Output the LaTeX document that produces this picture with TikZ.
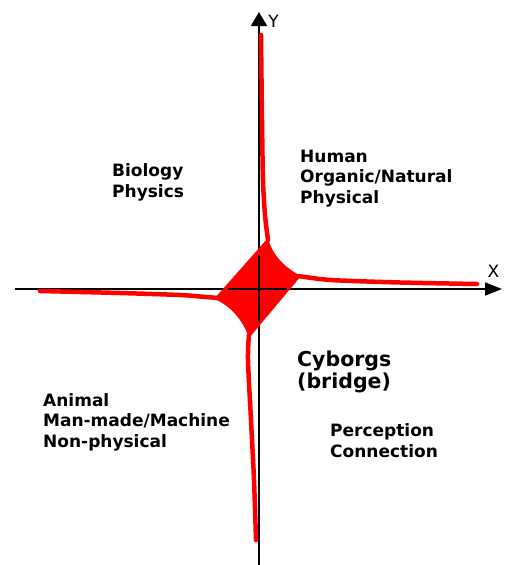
\documentclass[tikz,border=0pt]{standalone}
\usepackage{fontspec}
\setmainfont{DejaVu Sans}
\usetikzlibrary{arrows.meta}
\definecolor{cred}{RGB}{255,0,0}
\tikzset{
  axisline/.style={line width=1.8pt, black},
  tail/.style={line width=4.5pt, cred, line cap=round},
  lbl/.style={inner sep=0pt, anchor=base west, align=left, font=\bfseries\fontsize{17}{20.3}\selectfont},
  biglbl/.style={inner sep=0pt, anchor=base west, align=left, font=\bfseries\fontsize{20.5}{21.5}\selectfont},
  axlbl/.style={inner sep=0pt, anchor=base, font=\fontsize{17}{20}\selectfont}
}
\begin{document}
\begin{tikzpicture}[x=1pt,y=-1pt]
\useasboundingbox (0,0) rectangle (506,565);
% coordinates
\coordinate (xs) at (15,289);
\coordinate (xe) at (502,289);
\coordinate (ys) at (259,565);
\coordinate (ye) at (259,12);
% axes
\draw[axisline,-{Triangle[length=17pt,width=13pt]}] (xs) -- (xe);
\draw[axisline,-{Triangle[length=14pt,width=16pt]}] (ys) -- (ye);
% tails
\draw[tail] plot[smooth] coordinates {(268,240) (265,215) (263,180) (262,120) (261,35)};
\draw[tail] plot[smooth] coordinates {(298,276) (320,279) (340,280.5) (400,282.5) (477,284)};
\draw[tail] plot[smooth] coordinates {(218,298) (200,296.5) (180,295) (120,293) (40,291)};
\draw[tail] plot[smooth] coordinates {(249,335) (248,360) (251,420) (254,480) (256,540)};
% diamond
\fill[cred] (268,238) .. controls (272,255) and (285,268) .. (301,276)
  -- (249,338) .. controls (243,320) and (230,305) .. (214,299) -- cycle;
% axis segments visible inside diamond
\draw[axisline] (228,289) -- (287,289);
\draw[axisline] (259,255) -- (259,322);
% axis labels
\node[axlbl] (ylab) at (273.5,27) {Y};
\node[axlbl] (xlab) at (493.5,277) {X};
% quadrant labels (anchor at baseline of last line)
\node[lbl] (bio) at (112,197) {Biology\\Physics};
\node[lbl] (hum) at (300,203) {Human\\Organic/Natural\\Physical};
\node[biglbl] (cyb) at (297,388) {Cyborgs\\(bridge)};
\node[lbl] (ani) at (43,447) {Animal\\Man-made/Machine\\Non-physical};
\node[lbl] (per) at (330,457) {Perception\\Connection};
\end{tikzpicture}
\end{document}
